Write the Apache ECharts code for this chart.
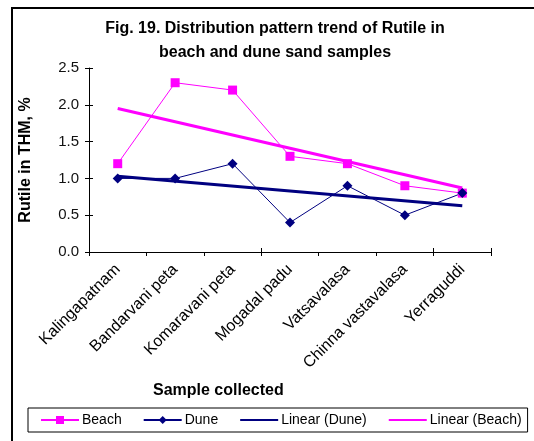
<!DOCTYPE html>
<html>
<head>
<meta charset="utf-8">
<script src="https://cdn.jsdelivr.net/npm/echarts@6/dist/echarts.min.js"></script>
<style>
  html, body { margin: 0; padding: 0; background: #fff; }
  #chart-container { width: 534px; height: 441px; }
</style>
</head>
<body>
<div id="chart-container"></div>
<script>
var samples = ['Kalingapatnam', 'Bandarvani peta', 'Komaravani peta', 'Mogadal padu', 'Vatsavalasa', 'Chinna vastavalasa', 'Yerraguddi'];
var beach = [1.2, 2.3, 2.2, 1.3, 1.2, 0.9, 0.8];
var dune = [1.0, 1.0, 1.2, 0.4, 0.9, 0.5, 0.8];
// trendline end points
var linearBeach = [1.95, null, null, null, null, null, 0.87];
var linearDune = [1.03, null, null, null, null, null, 0.63];

var dom = document.getElementById('chart-container');
var myChart = echarts.init(dom, null, { renderer: 'canvas' });
var font = 'Liberation Sans, Arial, sans-serif';

var option = {
  animation: false,
  textStyle: { fontFamily: font },
  title: {
    text: 'Fig. 19. Distribution pattern trend of Rutile in\nbeach and dune sand samples',
    left: 270,
    textAlign: 'center',
    top: 12,
    textStyle: { fontSize: 16, fontWeight: 'bold', color: '#000', lineHeight: 24, fontFamily: font }
  },
  graphic: [
    {
      type: 'rect',
      shape: { x: 12, y: 8, width: 560, height: 460 },
      style: { fill: 'none', stroke: '#000', lineWidth: 2 },
      silent: true
    },
    {
      type: 'text',
      left: 153,
      top: 383,
      style: { text: 'Sample collected', font: 'bold 16px ' + font, fill: '#000' }
    }
  ],
  legend: {
    data: [
      { name: 'Beach' },
      { name: 'Dune' },
      { name: 'Linear (Dune)', itemStyle: { opacity: 0 } },
      { name: 'Linear (Beach)', itemStyle: { opacity: 0 } }
    ],
    left: 28,
    top: 408,
    width: 500,
    padding: [5, 6, 5, 12],
    itemGap: 21,
    itemWidth: 38,
    itemHeight: 10,
    borderColor: '#000',
    borderWidth: 1,
    textStyle: { fontSize: 14, color: '#000', padding: [0, 0, 0, -2] }
  },
  grid: { left: 89, right: 43, top: 68, bottom: 189, containLabel: false },
  xAxis: [
    {
      type: 'category',
      data: samples,
      boundaryGap: true,
      axisLine: { lineStyle: { color: '#000', width: 1 } },
      axisTick: { show: true, length: 4, lineStyle: { color: '#000' } },
      axisLabel: { rotate: 45, fontSize: 16, color: '#000', margin: 15, interval: 0 }
    },
    {
      // inner half of the crossing tick marks
      type: 'category',
      data: samples,
      position: 'bottom',
      boundaryGap: true,
      axisLine: { show: false },
      axisTick: { show: true, inside: true, length: 4, lineStyle: { color: '#000' } },
      axisLabel: { show: false }
    }
  ],
  yAxis: [
    {
      type: 'value',
      min: 0,
      max: 2.5,
      interval: 0.5,
      name: 'Rutile in THM, %',
      nameLocation: 'middle',
      nameGap: 55,
      nameTextStyle: { fontSize: 16, fontWeight: 'bold', color: '#000' },
      axisLine: { show: true, lineStyle: { color: '#000', width: 1 } },
      axisTick: { show: true, length: 4, lineStyle: { color: '#000' } },
      splitLine: { show: false },
      axisLabel: {
        fontSize: 15,
        color: '#111',
        margin: 10,
        formatter: function (v) { return v.toFixed(1); }
      }
    },
    {
      type: 'value',
      min: 0,
      max: 2.5,
      interval: 0.5,
      position: 'left',
      axisLine: { show: false },
      axisTick: { show: true, inside: true, length: 4, lineStyle: { color: '#000' } },
      splitLine: { show: false },
      axisLabel: { show: false }
    }
  ],
  series: [
    {
      name: 'Beach',
      type: 'line',
      data: beach,
      symbol: 'rect',
      symbolSize: 9,
      itemStyle: { color: '#ff00ff' },
      lineStyle: { color: '#ff00ff', width: 1 }
    },
    {
      name: 'Dune',
      type: 'line',
      data: dune,
      symbol: 'diamond',
      symbolSize: 10,
      itemStyle: { color: '#000080' },
      lineStyle: { color: '#000080', width: 1 }
    },
    {
      name: 'Linear (Dune)',
      type: 'line',
      data: linearDune,
      connectNulls: true,
      symbol: 'none',
      itemStyle: { color: '#000080' },
      lineStyle: { color: '#000080', width: 3 }
    },
    {
      name: 'Linear (Beach)',
      type: 'line',
      data: linearBeach,
      connectNulls: true,
      symbol: 'none',
      itemStyle: { color: '#ff00ff' },
      lineStyle: { color: '#ff00ff', width: 3 }
    }
  ]
};

myChart.setOption(option);
window.addEventListener('resize', myChart.resize);
</script>
</body>
</html>
